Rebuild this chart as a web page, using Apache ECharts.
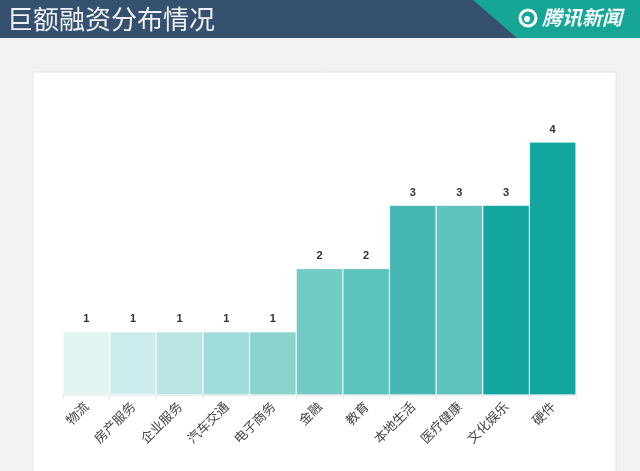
<!DOCTYPE html>
<html>
<head>
<meta charset="utf-8">
<script src="https://cdn.jsdelivr.net/npm/echarts@6/dist/echarts.min.js"></script>
<style>
html,body{margin:0;padding:0;background:#f2f2f2;}
#chart{width:640px;height:471px;}
</style>
</head>
<body>
<div id="chart"></div>
<script>
var titleText = '巨额融资分布情况';
var brandText = '腾讯新闻';
var categories = ['物流','房产服务','企业服务','汽车交通','电子商务','金融','教育','本地生活','医疗健康','文化娱乐','硬件'];
var values = [1,1,1,1,1,2,2,3,3,3,4];
var barColors = ['#e2f4f1','#cdeced','#b8e4e4','#a1dcdc','#8bd3cc','#72cbc7','#5cc2bc','#46b7b3','#5cc2bb','#12a69f','#12a69f'];

var chart = echarts.init(document.getElementById('chart'), null, {renderer:'canvas'});
var option = {
  backgroundColor: '#f2f2f2',
  animation: false,
  title: {
    text: titleText,
    left: 7, top: 6, padding: 0,
    textStyle: {color:'#eef2f6', fontSize:26, fontWeight:'normal', fontFamily:'Noto Sans CJK SC'}
  },
  graphic: [
    {type:'rect', z:-10, shape:{x:0,y:0,width:640,height:38}, style:{fill:'#36506f'}},
    {type:'polygon', z:-9, shape:{points:[[473,0],[640,0],[640,38],[517,38]]}, style:{fill:'#17a596'}},
    {type:'rect', z:-10, shape:{x:33,y:72,width:583,height:420}, style:{fill:'#ffffff', stroke:'#e4e4e4', lineWidth:1}},
    {type:'circle', z:5, shape:{cx:528,cy:18,r:8}, style:{fill:'none', stroke:'#ffffff', lineWidth:3}},
    {type:'circle', z:5, shape:{cx:527,cy:19,r:3}, style:{fill:'#ffffff'}},
    {type:'text', z:5, left:542, top:7, style:{text:brandText, fill:'#f4fbfa', font:'italic bold 20px "Noto Sans CJK SC"'}}
  ],
  grid: {left:63, right:64, top:142, bottom:76},
  xAxis: {
    type:'category',
    data: categories,
    axisLine:{show:true, lineStyle:{color:'#ececec'}},
    axisTick:{show:true, lineStyle:{color:'#e6e6e6'}, length:4},
    axisLabel:{rotate:45, color:'#444444', fontSize:13, margin:9, interval:0, fontFamily:'Noto Sans CJK SC'}
  },
  yAxis: {type:'value', min:0, max:4, show:false, splitLine:{show:false}},
  series: [{
    type:'bar',
    barCategoryGap:'0%',
    data: values.map(function(v,i){return {value:v, itemStyle:{color:barColors[i]}};}),
    itemStyle:{borderColor:'rgba(255,255,255,0.15)', borderWidth:1},
    label:{show:true, position:'top', distance:7, color:'#333333', fontSize:11, fontWeight:'bold', fontFamily:'Liberation Sans'}
  }]
};
chart.setOption(option);
</script>
</body>
</html>
